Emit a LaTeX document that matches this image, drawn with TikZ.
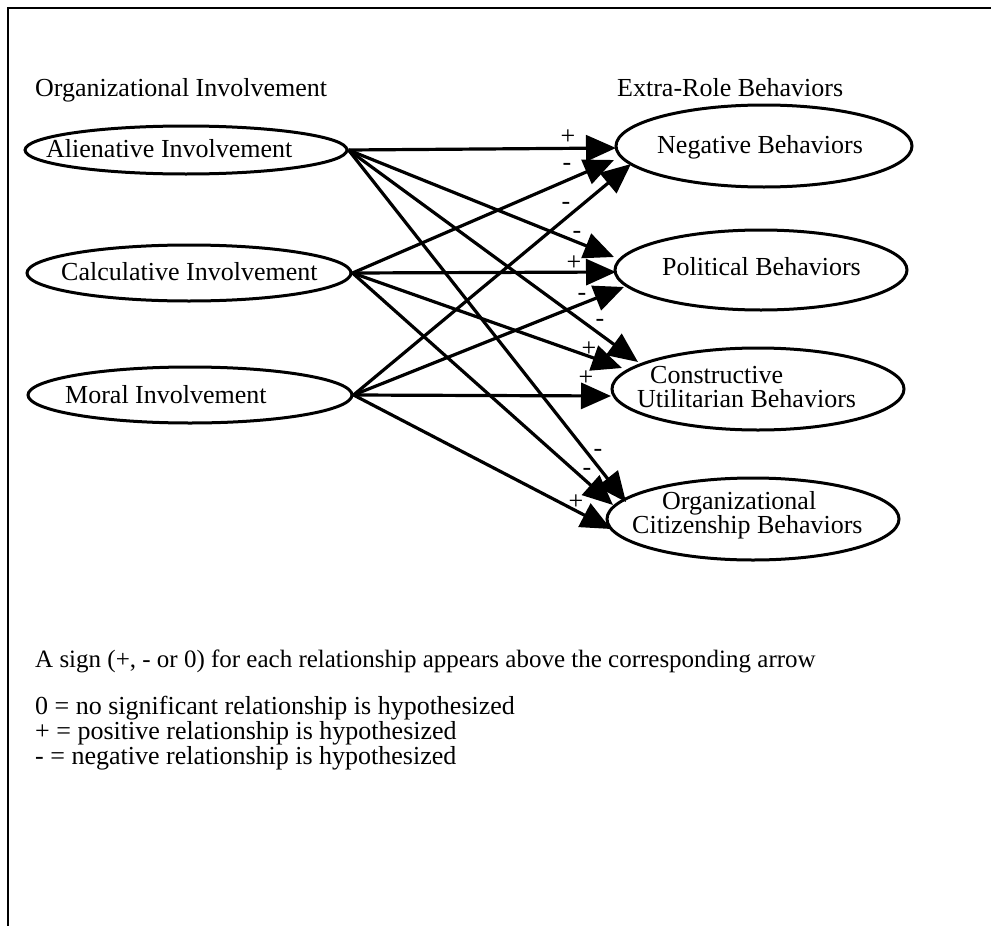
\documentclass[tikz,border=0pt]{standalone}
\usepackage{fontspec}
\setmainfont{Liberation Serif}
\usetikzlibrary{shapes.geometric,arrows.meta}
\begin{document}
\begin{tikzpicture}[x=1pt,y=-1pt,
  oval/.style={draw,ellipse,line width=3pt,inner sep=0pt},
  txt/.style={anchor=base west,inner sep=0pt,font=\fontsize{26}{30}\selectfont},
  twoline/.style={anchor=base west,inner sep=0pt,align=left,font=\fontsize{26}{24}\selectfont},
  sgn/.style={inner sep=0pt,font=\fontsize{26}{30}\selectfont},
  link/.style={line width=3.2pt,-{Triangle[length=30pt,width=26pt]}}]
\useasboundingbox (0,0) rectangle (991,926);

% frame
\draw[line width=2.5pt] (8,926) -- (8,8) -- (991,8);

% headings
\node[txt] (hL) at (35,96) {Organizational Involvement};
\node[txt] (hR) at (617,96) {Extra-Role Behaviors};

% involvement types
\node[oval,minimum width=322pt,minimum height=48pt] (ali) at (186,150) {};
\node[txt] (aliT) at (46,157) {Alienative Involvement};
\node[oval,minimum width=324pt,minimum height=56pt] (cal) at (189,273) {};
\node[txt] (calT) at (61,280) {Calculative Involvement};
\node[oval,minimum width=324pt,minimum height=56pt] (mor) at (190,395) {};
\node[txt] (morT) at (65,403) {Moral Involvement};

% extra-role behaviours (multi-line labels are placed by their last baseline)
\node[oval,minimum width=296pt,minimum height=82pt] (neg) at (764,146) {};
\node[txt] (negT) at (657,153) {Negative Behaviors};
\node[oval,minimum width=292pt,minimum height=80pt] (pol) at (761,270) {};
\node[txt] (polT) at (662,275) {Political Behaviors};
\node[oval,minimum width=292pt,minimum height=82pt] (con) at (758,389) {};
\node[twoline] (conT) at (637,407) {\hspace*{13pt}Constructive\\Utilitarian Behaviors};
\node[oval,minimum width=292pt,minimum height=82pt] (org) at (753,519) {};
\node[twoline] (orgT) at (632,533) {\hspace*{30pt}Organizational\\Citizenship Behaviors};

% arrow tips
\coordinate (tAN) at (616,148);
\coordinate (tCN) at (614,160);
\coordinate (tMN) at (631,164);
\coordinate (tAP) at (614,257);
\coordinate (tCP) at (616,272);
\coordinate (tMP) at (624,287);
\coordinate (tAC) at (638,362);
\coordinate (tCC) at (622,368);
\coordinate (tMC) at (611,396);
\coordinate (tAO) at (626,502);
\coordinate (tCO) at (613,505);
\coordinate (tMO) at (611,529);

% relationships
\draw[link] (ali.east) -- (tAN);
\draw[link] (ali.east) -- (tAP);
\draw[link] (ali.east) -- (tAC);
\draw[link] (ali.east) -- (tAO);
\draw[link] (cal.east) -- (tCN);
\draw[link] (cal.east) -- (tCP);
\draw[link] (cal.east) -- (tCC);
\draw[link] (cal.east) -- (tCO);
\draw[link] (mor.east) -- (tMN);
\draw[link] (mor.east) -- (tMP);
\draw[link] (mor.east) -- (tMC);
\draw[link] (mor.east) -- (tMO);

% signs
\node[sgn] (sAN) at (568,137) {+};
\node[sgn] (sCN) at (567,167) {-};
\node[sgn] (sMN) at (566,206) {-};
\node[sgn] (sAP) at (577,235) {-};
\node[sgn] (sCP) at (574,263) {+};
\node[sgn] (sMP) at (582,297) {-};
\node[sgn] (sAC) at (600,323) {-};
\node[sgn] (sCC) at (589,349) {+};
\node[sgn] (sMC) at (586,378) {+};
\node[sgn] (sAO) at (598,453) {-};
\node[sgn] (sCO) at (587,472) {-};
\node[sgn] (sMO) at (576,502) {+};

% key
\node[txt,font=\fontsize{25}{30}\selectfont] (k0) at (35,667) {A sign (+, - or 0) for each relationship appears above the corresponding arrow};
\node[twoline,font=\fontsize{26}{23}\selectfont] (key) at (35,764) {0 = no significant relationship is hypothesized\\+ = positive relationship is hypothesized\\- = negative relationship is hypothesized};
\end{tikzpicture}
\end{document}
